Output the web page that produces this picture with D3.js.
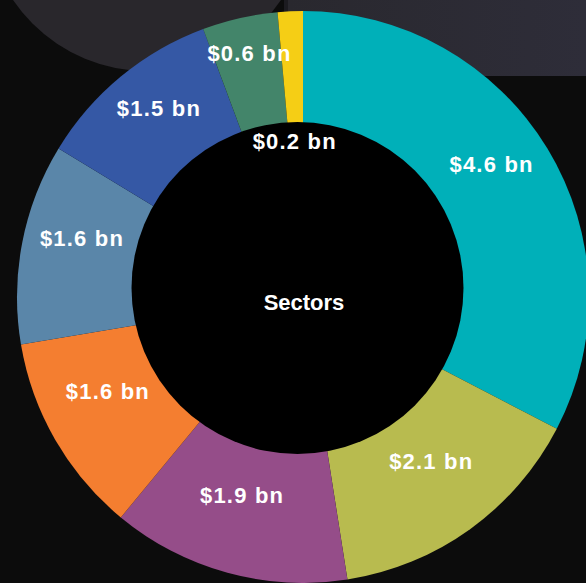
<!DOCTYPE html>
<html>
<head>
<meta charset="utf-8">
<script src="https://cdn.jsdelivr.net/npm/d3@7"></script>
<style>
  html, body { margin: 0; padding: 0; background: #0c0c0c; }
  svg { display: block; }
  text { font-family: "Liberation Sans", Arial, sans-serif; }
</style>
</head>
<body>
<svg id="chart" width="586" height="583"></svg>
<script>
// ---- data ----
const categories = ["Sector A", "Sector B", "Sector C", "Sector D", "Sector E", "Sector F", "Sector G", "Sector H"];
const values = [4.6, 2.1, 1.9, 1.6, 1.6, 1.5, 0.6, 0.2];
const labels = ["$4.6 bn", "$2.1 bn", "$1.9 bn", "$1.6 bn", "$1.6 bn", "$1.5 bn", "$0.6 bn", "$0.2 bn"];
const colors = ["#00b0b9", "#b8bb4f", "#954d89", "#f47e30", "#5a86a9", "#3558a5", "#43856a", "#f5ce15"];
const centerTitle = "Sectors";

const W = 586, H = 583;
const svg = d3.select("#chart");

// ---- background ----
const defs = svg.append("defs");
const g1 = defs.append("linearGradient").attr("id", "band").attr("x1", 0).attr("x2", 1).attr("y1", 0).attr("y2", 0);
g1.append("stop").attr("offset", 0).attr("stop-color", "#29282e");
g1.append("stop").attr("offset", 1).attr("stop-color", "#2e2d39");
svg.append("rect").attr("width", W).attr("height", H).attr("fill", "#0c0c0c");
svg.append("rect").attr("x", 288).attr("y", 0).attr("width", W - 288).attr("height", 76).attr("fill", "url(#band)");
svg.append("rect").attr("x", 284).attr("y", 0).attr("width", 4).attr("height", 76).attr("fill", "#1c1b20");
svg.append("circle").attr("cx", 147).attr("cy", -91).attr("r", 162).attr("fill", "#29272c");

// ---- pie ----
const cx = 303, cy = 297, R = 286;
const holeCx = 297.5, holeCy = 288, holeR = 166;

const pie = d3.pie().sort(null).sortValues(null).value(d => d);
const arcs = pie(values);
const arc = d3.arc().innerRadius(0).outerRadius(R);

const g = svg.append("g").attr("transform", `translate(${cx},${cy})`);
g.selectAll("path").data(arcs).join("path")
  .attr("d", arc)
  .attr("fill", (d, i) => colors[i]);

svg.append("circle").attr("cx", holeCx).attr("cy", holeCy).attr("r", holeR).attr("fill", "#000");

// ---- labels ----
const fontSize = 22;
const labelCx = 301, labelCy = 280, labelR = 223;
const pos = arcs.map((d, i) => {
  const a = (d.startAngle + d.endAngle) / 2;
  const span = d.endAngle - d.startAngle;
  const w = labels[i].length * fontSize * 0.56;
  let r = labelR;
  if (span * labelR < w * 0.3) r = holeR - 27;      // very thin slice: label sits inside the hole
  else if (span * labelR < w) r = labelR + 10;      // narrow slice: nudge label outward
  return { a, r };
});

svg.append("g").selectAll("text").data(pos).join("text")
  .attr("x", d => labelCx + d.r * Math.sin(d.a))
  .attr("y", d => labelCy - d.r * Math.cos(d.a))
  .attr("dy", "0.36em")
  .attr("text-anchor", "middle")
  .attr("fill", "#ffffff")
  .attr("font-size", fontSize)
  .attr("font-weight", "bold")
  .attr("letter-spacing", 1.2)
  .text((d, i) => labels[i]);

svg.append("text")
  .attr("x", cx + 1).attr("y", cy + 5)
  .attr("dy", "0.36em")
  .attr("text-anchor", "middle")
  .attr("fill", "#ffffff")
  .attr("font-size", 22)
  .attr("font-weight", "bold")
  .text(centerTitle);
</script>
</body>
</html>
